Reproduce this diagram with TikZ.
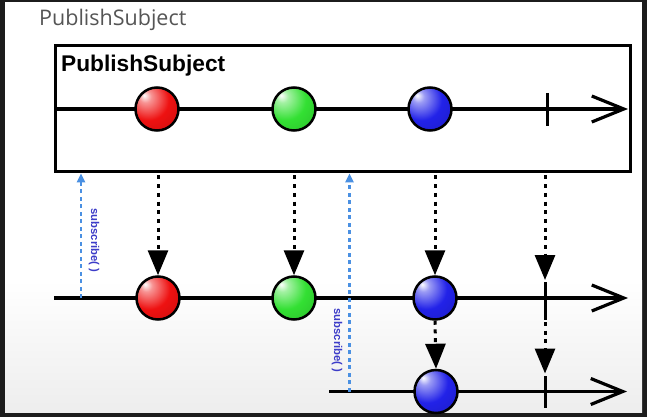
\documentclass[tikz,border=0pt]{standalone}
\usepackage{fontspec}
\newfontfamily\titlefont{Open Sans}
\newfontfamily\helv{Liberation Sans}
\usetikzlibrary{arrows.meta,positioning}
\definecolor{framegray}{HTML}{1C1C1C}
\definecolor{titlegray}{HTML}{555555}
\definecolor{subblue}{HTML}{4A90E2}
\definecolor{subtext}{HTML}{3C3CC8}
\definecolor{marblered}{HTML}{EE1111}
\definecolor{marblegreen}{HTML}{33E033}
\definecolor{marbleblue}{HTML}{2222E8}
\colorlet{ballcolor}{red}
\pgfdeclareradialshading[ballcolor]{glossy}{\pgfpoint{-15bp}{16bp}}{%
  color(0bp)=(white); color(7bp)=(ballcolor!45!white); color(24bp)=(ballcolor);
  color(52bp)=(ballcolor!80!black); color(75bp)=(ballcolor!55!black)}
\tikzset{
  timeline/.style={line width=3.2pt, -{Straight Barb[length=32pt,width=26pt]}},
  marble/.style={circle, draw=black, line width=2.5pt, minimum size=43pt, inner sep=0pt,
    /utils/exec={\colorlet{ballcolor}{#1}}, shading=glossy},
  donetick/.style={line width=3pt},
  emitarrow/.style={line width=3pt, dash pattern=on 4pt off 4.7pt, -{Triangle[length=25pt,width=20pt]}},
  subarrow/.style={subblue, line width=2.5pt, dash pattern=on 4pt off 3.5pt, -{Triangle[length=9pt,width=8pt]}},
  sublabel/.style={font=\helv\bfseries\fontsize{11.3}{11.3}\selectfont, text=subtext, rotate=-90, inner sep=0pt}
}
\begin{document}
\begin{tikzpicture}[x=1pt, y=-1pt]
    \useasboundingbox (0,0) rectangle (647,417);
    % Screen frame and page
    \fill[framegray] (0,0) rectangle (647,417);
    \fill[white] (5,2) rectangle (642,412);
    \shade[top color=white, bottom color=black!7] (5,280) rectangle (642,412);
    \node[anchor=base west, inner sep=0pt, text=titlegray, font=\titlefont\fontsize{21.5}{21.5}\selectfont] (title) at (39,26) {PublishSubject};

    % Subject box
    \node[draw, line width=3pt, minimum width=575pt, minimum height=126pt, inner sep=0pt] (subj) at (343.4,108.9) {};
    \node[anchor=base west, inner sep=0pt, font=\helv\bfseries\fontsize{22.7}{22.7}\selectfont] (subjname) at (61,72) {PublishSubject};

    % Timelines
    \coordinate (end1) at (628,109);
    \coordinate (start2) at (54,298);
    \coordinate (end2) at (628,298);
    \coordinate (start3) at (329,391.5);
    \coordinate (end3) at (627,391.5);
    \draw[timeline] (subj.west |- end1) -- (end1);
    \draw[timeline] (start2) -- (end2);
    \draw[timeline] (start3) -- (end3);

    % Completion ticks
    \coordinate (t1) at (547,109);
    \coordinate (t2) at (545,298);
    \coordinate (t3) at (545,391.5);
    \draw[donetick] (547,93) -- (547,126);
    \draw[donetick] (545,282) -- (545,320);
    \draw[donetick] (545,376) -- (545,408);

    % Marbles
    \node[marble=marblered] (r1) at (157,109) {};
    \node[marble=marblegreen] (g1) at (294,109) {};
    \node[marble=marbleblue] (b1) at (430,109) {};
    \node[marble=marblered] (r2) at (158,298) {};
    \node[marble=marblegreen] (g2) at (294,298) {};
    \node[marble=marbleblue] (b2) at (435,298) {};
    \node[marble=marbleblue] (b3) at (436,391.5) {};

    % Emissions to first subscriber
    \draw[emitarrow] ([yshift=-2pt]subj.south -| r2) -- (r2.north);
    \draw[emitarrow] ([yshift=-2pt]subj.south -| g2) -- (g2.north);
    \draw[emitarrow] ([yshift=-2pt]subj.south -| b2) -- (b2.north);
    \draw[emitarrow] ([yshift=-2pt]subj.south -| t2) -- ([yshift=18pt]t2);

    % Emissions to second subscriber
    \draw[emitarrow] (b2.south) -- (b3.north);
    \draw[emitarrow] ([yshift=-24pt]t2) -- ([yshift=18pt]t3);

    % Subscriptions
    \coordinate (s1) at (81,298);
    \coordinate (s2) at (349.5,391.5);
    \draw[subarrow] (s1) -- (subj.south -| s1);
    \draw[subarrow] (s2) -- (subj.south -| s2);
    \node[sublabel] (sub1) at (94,240.5) {subscribe( )};
    \node[sublabel] (sub2) at (337,340.5) {subscribe( )};
\end{tikzpicture}
\end{document}
